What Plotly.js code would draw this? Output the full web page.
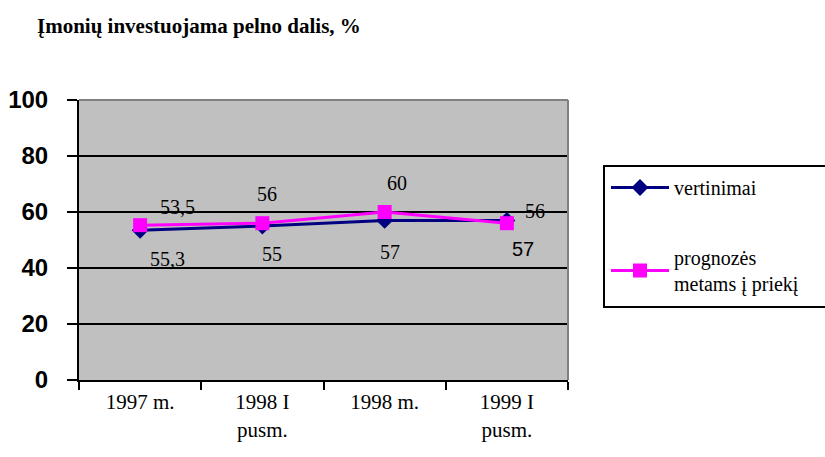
<!DOCTYPE html>
<html>
<head>
<meta charset="utf-8">
<script src="https://cdn.plot.ly/plotly-3.0.1.min.js"></script>
<style>
  html, body { margin: 0; padding: 0; background: #ffffff; }
  #chart { width: 825px; height: 457px; }
</style>
</head>
<body>
<div id="chart"></div>
<script>
// ---- data ----
const categories = ["1997 m.", "1998 I<br>pusm.", "1998 m.", "1999 I<br>pusm."];
const seriesNames = ["vertinimai", "prognozės<br>metams į priekį"];
const vertinimai = [53.5, 55, 57, 57];
const prognozes = [55.3, 56, 60, 56];
const vertinimaiLabels = ["53,5", "55", "57", "57"];
const prognozesLabels = ["55,3", "56", "60", "56"];
const yTicks = [0, 20, 40, 60, 80, 100];

// label offsets (styling, px)
const vertinimaiOffsets = [[37, 23], [10, -28], [5, -32], [16, -29]];
const prognozesOffsets = [[27, -34], [5, 29], [12, 29], [28, 12]];

const serif = "Liberation Serif";
const sans = "Liberation Sans";
const vertinimaiFonts = [serif, serif, serif, sans];

const traces = [
  {
    x: categories, y: vertinimai, name: seriesNames[0], type: "scatter", mode: "lines+markers",
    line: { color: "#000080", width: 3 },
    marker: { symbol: "diamond", size: 13, color: "#000080" },
    legendgroup: "a", cliponaxis: false
  },
  {
    x: categories, y: prognozes, name: seriesNames[1], type: "scatter", mode: "lines+markers",
    line: { color: "#ff00ff", width: 3 },
    marker: { symbol: "square", size: 14, color: "#ff00ff" },
    legendgroup: "b", cliponaxis: false
  }
];

const annotations = [];
vertinimai.forEach((v, i) => annotations.push({
  x: categories[i], y: v, xref: "x", yref: "y", text: vertinimaiLabels[i], showarrow: false,
  xshift: vertinimaiOffsets[i][0], yshift: vertinimaiOffsets[i][1],
  font: { family: vertinimaiFonts[i], size: 20, color: "#000" }
}));
prognozes.forEach((v, i) => annotations.push({
  x: categories[i], y: v, xref: "x", yref: "y", text: prognozesLabels[i], showarrow: false,
  xshift: prognozesOffsets[i][0], yshift: prognozesOffsets[i][1],
  font: { family: serif, size: 20, color: "#000" }
}));

const layout = {
  width: 825, height: 457,
  margin: { l: 79, r: 257, t: 100, b: 77 },
  font: { family: serif, color: "#000" },
  paper_bgcolor: "#ffffff",
  plot_bgcolor: "#c0c0c0",
  title: {
    text: "<b>Įmonių investuojama pelno dalis, %</b>",
    font: { family: serif, size: 21, color: "#000" },
    x: 37 / 825, xanchor: "left", y: 1 - 26 / 457, yanchor: "middle"
  },
  xaxis: {
    type: "category",
    tickson: "boundaries",
    ticks: "outside", ticklen: 8, tickwidth: 2, tickcolor: "#000",
    showline: true, linecolor: "#000", linewidth: 2,
    showgrid: false, zeroline: false,
    tickfont: { family: serif, size: 21, color: "#000" },
    ticklabelstandoff: 2,
    range: [-0.5, 3.5], fixedrange: true
  },
  yaxis: {
    range: [0, 100], tickvals: yTicks,
    ticks: "outside", ticklen: 10, tickwidth: 2, tickcolor: "#000",
    showline: true, linecolor: "#000", linewidth: 2,
    showgrid: true, gridcolor: "#000", gridwidth: 2,
    zeroline: false,
    tickfont: { family: sans, size: 24, color: "#000", weight: "bold" },
    ticklabelstandoff: 14
  },
  shapes: [
    { type: "line", xref: "paper", yref: "paper", x0: 0, x1: 1, y0: 1, y1: 1, line: { color: "#808080", width: 2 } },
    { type: "line", xref: "paper", yref: "paper", x0: 1, x1: 1, y0: 0, y1: 1, line: { color: "#808080", width: 2 } },
    { type: "rect", xref: "paper", yref: "paper",
      x0: 1 + 36 / 489, x1: 1 + 270 / 489, y0: (380 - 307) / 280, y1: (380 - 166) / 280,
      line: { color: "#000", width: 2 }, fillcolor: "rgba(0,0,0,0)" }
  ],
  annotations: annotations,
  showlegend: true,
  legend: {
    x: 1 + 38 / 489, xanchor: "left",
    y: (380 - 168) / 280, yanchor: "top",
    bgcolor: "rgba(0,0,0,0)", borderwidth: 0,
    font: { family: serif, size: 20, color: "#000" },
    traceorder: "grouped", tracegroupgap: 41,
    itemwidth: 58
  }
};

Plotly.newPlot("chart", traces, layout, { displayModeBar: false, staticPlot: true });
</script>
</body>
</html>
